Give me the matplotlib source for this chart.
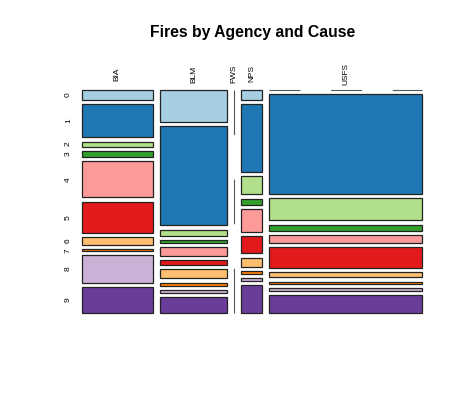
import matplotlib.pyplot as plt
from matplotlib.patches import Rectangle

plt.rcParams['font.family'] = ['Liberation Sans', 'DejaVu Sans']
plt.rcParams['lines.scale_dashes'] = False

agencies = ["BIA", "BLM", "FWS", "NPS", "USFS"]
causes = ["0", "1", "2", "3", "4", "5", "6", "7", "8", "9"]

# counts per cause (0..9) for each agency
bia = [71, 234, 36, 43, 256, 220, 57, 14, 192, 185]
blm = [218, 673, 41, 20, 61, 34, 61, 20, 20, 109]
fws = [0, 0, 0, 0, 0, 0, 0, 0, 0, 0]
nps = [21, 143, 38, 13, 48, 36, 19, 6, 6, 59]
usfs = [0, 1530, 337, 92, 122, 321, 77, 31, 46, 275]
counts = [bia, blm, fws, nps, usfs]

colors = ['#A6CEE3', '#1F78B4', '#B2DF8A', '#33A02C', '#FB9A99',
          '#E31A1C', '#FDBF6F', '#FF7F00', '#CAB2D6', '#6A3D9A']

fig = plt.figure(figsize=(4.74, 3.95), dpi=100)
ax = fig.add_axes([82 / 474, 1 - 313 / 395, 340 / 474, 223 / 395])
ax.set_xlim(0, 1)
ax.set_ylim(1, 0)
ax.axis('off')

gx, gy = 0.02, 0.019
grand = sum(sum(c) for c in counts)
wsum = 1 - gx * (len(agencies) - 1)
hsum = 1 - gy * (len(causes) - 1)

x = 0.0
row_pos = None
for name, col in zip(agencies, counts):
    tot = sum(col)
    w = wsum * tot / grand
    if tot == 0:
        ax.plot([x, x], [0, 1], color='#555555', lw=0.8,
                linestyle=(0, (32.1, 32.1)), clip_on=False)
    else:
        y = 0.0
        centers = []
        for k, n in enumerate(col):
            h = hsum * n / tot
            if n == 0:
                ax.plot([x, x + w], [y, y], color='#555555', lw=0.8,
                        linestyle=(0, (22.2, 22.2)), clip_on=False)
            else:
                ax.add_patch(Rectangle((x, y), w, h, facecolor=colors[k],
                                       edgecolor='#222222', lw=0.9, clip_on=False))
            centers.append(y + h / 2)
            y += h + gy
        if row_pos is None:
            row_pos = centers
    ax.text(x + w / 2, -0.072, name, rotation=90, ha='center', va='center',
            fontsize=6, clip_on=False)
    x += w + gx

for lab, yc in zip(causes, row_pos):
    ax.text(-0.04, yc, lab, rotation=90, ha='center', va='center',
            fontsize=6, clip_on=False)

fig.text(253 / 474, 1 - 33 / 395, "Fires by Agency and Cause", ha='center',
         va='center', fontsize=11.3, fontweight='bold')

fig.savefig("out.png", dpi=100)
